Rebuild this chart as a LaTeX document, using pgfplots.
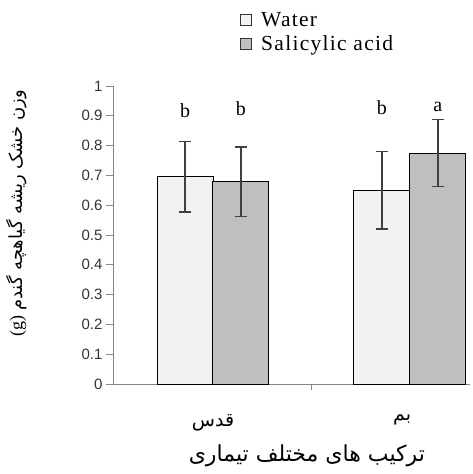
\documentclass[border=0pt]{standalone}
\usepackage{fontspec}
\setmainfont{Liberation Serif}
\newfontfamily\tickfont{Liberation Sans}
\newfontfamily\legfont[LetterSpace=6]{Liberation Serif}
\newfontfamily\arabicfont[Script=Arabic]{DejaVu Sans}
\usepackage{pgfplots}
\usepackage{pgfplotstable}
\pgfplotsset{compat=1.18}
\TeXXeTstate=1

\definecolor{waterfill}{HTML}{F2F2F2}
\definecolor{safill}{HTML}{BFBFBF}
\definecolor{axisgray}{HTML}{868686}
\definecolor{errgray}{HTML}{404040}

% mean dry weight and error (bars placed at group centre -/+ half a bar)
\pgfplotstableread{
x y err
-0.142 0.695 0.118
0.858 0.650 0.130
}\water
\pgfplotstableread{
x y err
0.142 0.678 0.117
1.142 0.775 0.113
}\salicylic
% significance letters
\pgfplotstableread{
x y lab
-0.142 0.893 b
0.142 0.900 b
0.858 0.903 b
1.142 0.915 a
}\letters

\begin{document}
\begin{tikzpicture}
\useasboundingbox (-113pt,-90pt) rectangle (359pt,384pt);
\begin{axis}[
    scale only axis,
    width=357pt, height=298pt,
    xmin=-0.508, xmax=1.305,
    ymin=0, ymax=1,
    axis lines*=left,
    axis line style={draw=axisgray, line width=0.9pt},
    tick align=outside,
    major tick length=7pt,
    ytick={0,0.1,...,1},
    y tick style={draw=axisgray, line width=0.9pt},
    yticklabel style={font=\tickfont\fontsize{15}{17}\selectfont, text=black!80,
        /pgf/number format/fixed, /pgf/number format/precision=1,
        /pgf/number format/assume math mode=true},
    xtick={0,0.96},
    xticklabels={{\arabicfont\beginR قدس\endR},{\arabicfont\beginR بم\endR}},
    x tick style={draw=none},
    xticklabel style={font=\fontsize{19}{22}\selectfont, yshift=-20pt},
    extra x ticks={0.5},
    extra x tick labels={},
    extra x tick style={x tick style={draw=axisgray, line width=0.9pt}, major tick length=6pt},
    xlabel={\arabicfont\beginR ترکیب های مختلف تیماری\endR},
    xlabel style={at={(axis description cs:0.543,0)}, yshift=-72pt, anchor=center,
        font=\fontsize{22}{26}\selectfont},
    ylabel={\beginL(g) \endL{\arabicfont\beginR وزن خشک ریشه گیاهچه گندم\endR}},
    ylabel style={at={(axis description cs:-0.27,0.574)}, anchor=center,
        font=\fontsize{18}{21}\selectfont},
    legend style={at={(0.356,1.255)}, anchor=north west, draw=none, fill=none,
        font=\legfont\fontsize{21.5}{25}\selectfont, row sep=4pt, inner sep=0pt,
        cells={anchor=west}},
    legend cell align=left,
    clip=false,
]
\addplot[ybar, bar width=56pt, bar shift=0pt, fill=waterfill, draw=black, line width=1pt,
    legend image code/.code={\draw[fill=waterfill, draw=black!80, line width=0.8pt] (0pt,-5pt) rectangle (11pt,6pt); \path (18pt,0pt);},
    error bars/.cd, y dir=both, y explicit,
    error bar style={draw=errgray, line width=1.3pt},
    error mark options={rotate=90, mark size=6pt, draw=errgray, line width=1.3pt}]
    table[x=x, y=y, y error=err] {\water};
\addplot[ybar, bar width=56pt, bar shift=0pt, fill=safill, draw=black, line width=1pt,
    legend image code/.code={\draw[fill=safill, draw=black!80, line width=0.8pt] (0pt,-5pt) rectangle (11pt,6pt); \path (18pt,0pt);},
    error bars/.cd, y dir=both, y explicit,
    error bar style={draw=errgray, line width=1.3pt},
    error mark options={rotate=90, mark size=6pt, draw=errgray, line width=1.3pt}]
    table[x=x, y=y, y error=err] {\salicylic};
\addplot[draw=none, mark=none, nodes near coords, point meta=explicit symbolic,
    nodes near coords style={anchor=base, inner sep=0pt, font=\fontsize{20}{24}\selectfont, text=black}]
    table[x=x, y=y, meta=lab] {\letters};
\legend{Water, Salicylic acid}
\end{axis}
\end{tikzpicture}
\end{document}
